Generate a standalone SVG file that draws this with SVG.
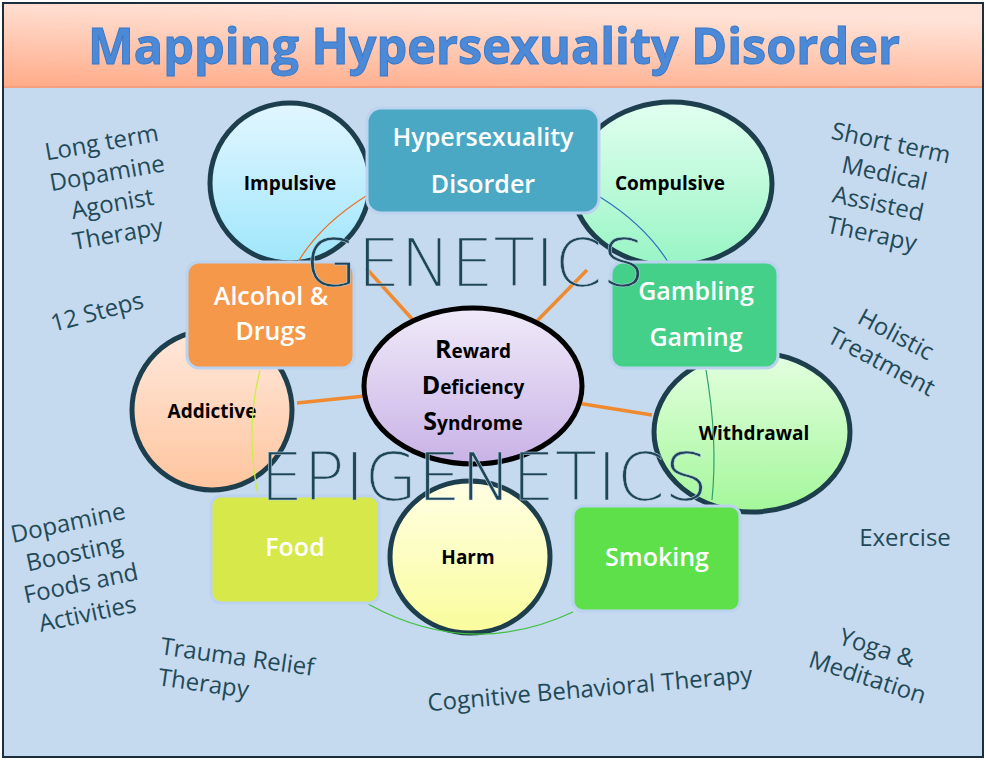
<svg xmlns="http://www.w3.org/2000/svg" width="986" height="762" viewBox="0 0 986 762">
<defs>
<linearGradient id="hdr" x1="0" y1="1" x2="0.3" y2="0"><stop offset="0" stop-color="#ffab88"/><stop offset="1" stop-color="#ffe3d8"/></linearGradient>
<linearGradient id="gImp" x1="0" y1="0" x2="0" y2="1"><stop offset="0" stop-color="#e2f6ff"/><stop offset="1" stop-color="#9fe6fb"/></linearGradient>
<linearGradient id="gCom" x1="0" y1="0" x2="0" y2="1"><stop offset="0" stop-color="#e2fff0"/><stop offset="1" stop-color="#98f5c4"/></linearGradient>
<linearGradient id="gAdd" x1="0" y1="0" x2="0" y2="1"><stop offset="0" stop-color="#ffe8dc"/><stop offset="1" stop-color="#ffc59e"/></linearGradient>
<linearGradient id="gWit" x1="0" y1="0" x2="0" y2="1"><stop offset="0" stop-color="#e4ffe0"/><stop offset="1" stop-color="#a4f79a"/></linearGradient>
<linearGradient id="gHar" x1="0" y1="0" x2="0" y2="1"><stop offset="0" stop-color="#ffffe4"/><stop offset="1" stop-color="#fafc9c"/></linearGradient>
<linearGradient id="gRds" x1="0" y1="0" x2="0" y2="1"><stop offset="0" stop-color="#f0eaf9"/><stop offset="1" stop-color="#c9b2e6"/></linearGradient>
</defs>
<style>
.circ{stroke:#1d3e4c;stroke-width:5}
.box{stroke:#bcd3ef;stroke-width:3}
.bt{font-family:"Open Sans","Liberation Sans",sans-serif;font-weight:600;font-size:25px;fill:#fff;text-anchor:middle}
.ct{font-family:"Open Sans","Liberation Sans",sans-serif;font-weight:700;font-size:19px;fill:#000;text-anchor:middle}
.st{font-family:"Open Sans","Liberation Sans",sans-serif;font-size:24px;fill:#1f4a58;text-anchor:middle}
.big{font-family:"DejaVu Sans",sans-serif;font-weight:200;font-size:66px;fill:#1d4656;stroke:#c5d9ef;stroke-width:0.5}
.ol{stroke:#f08a30;stroke-width:3.5;fill:none}
</style>
<rect x="3" y="3" width="980" height="754" fill="#c5d9ef" stroke="#1a2e3e" stroke-width="2"/>
<rect x="4" y="4" width="978" height="83" fill="url(#hdr)"/>
<line x1="4" y1="87" x2="982" y2="87" stroke="#f4a080" stroke-width="2"/>
<text x="88" y="64" font-family="Open Sans,Liberation Sans,sans-serif" font-weight="700" font-size="50" fill="#4c8ad8" stroke="#3a78c8" stroke-width="1" textLength="812" lengthAdjust="spacingAndGlyphs">Mapping Hypersexuality Disorder</text>

<g id="impulsive"><ellipse cx="290" cy="183" rx="80" ry="80" class="circ" fill="url(#gImp)"/><text x="290" y="190" class="ct">Impulsive</text></g>
<g id="compulsive"><ellipse cx="672" cy="184" rx="100" ry="82" class="circ" fill="url(#gCom)"/><text x="670" y="190" class="ct">Compulsive</text></g>
<g id="addictive"><ellipse cx="212" cy="410" rx="80" ry="80" class="circ" fill="url(#gAdd)"/><text x="212" y="418" class="ct">Addictive</text></g>
<g id="withdrawal"><ellipse cx="752" cy="432" rx="98" ry="80" class="circ" fill="url(#gWit)"/><text x="754" y="440" class="ct">Withdrawal</text></g>
<g id="harm"><ellipse cx="470" cy="557" rx="80" ry="76" class="circ" fill="url(#gHar)"/><text x="468" y="564" class="ct">Harm</text></g>

<g id="connectors">
<line x1="413" y1="320" x2="366" y2="268" class="ol"/>
<line x1="536" y1="322" x2="587" y2="270" class="ol"/>
<line x1="297" y1="403" x2="365" y2="396" class="ol"/>
<line x1="577" y1="403" x2="652" y2="415" class="ol"/>
<path d="M366 196 Q320 225 298 262" stroke="#f07020" stroke-width="1.2" fill="none"/>
<path d="M600 197 Q645 225 668 262" stroke="#3070c0" stroke-width="1.2" fill="none"/>
<path d="M260 370 Q245 430 258 495" stroke="#c8f040" stroke-width="1.2" fill="none"/>
<path d="M706 370 Q718 440 712 500" stroke="#30a070" stroke-width="1.2" fill="none"/>
<path d="M368 604 Q470 660 573 612" stroke="#40c040" stroke-width="1.2" fill="none"/>
</g>

<g id="rds"><ellipse cx="473" cy="386" rx="109" ry="78" fill="url(#gRds)" stroke="#000" stroke-width="5"/>
<text x="473" y="358" class="ct" font-size="21"><tspan font-size="25">R</tspan>eward</text><text x="473" y="394" class="ct" font-size="21"><tspan font-size="25">D</tspan>eficiency</text><text x="473" y="430" class="ct" font-size="21"><tspan font-size="25">S</tspan>yndrome</text></g>

<g id="hypersexuality"><rect x="367" y="108" width="232" height="105" rx="14" fill="#4aa8c4" class="box"/><text x="483" y="146" class="bt">Hypersexuality</text><text x="483" y="193" class="bt">Disorder</text></g>
<g id="alcohol"><rect x="187" y="262" width="167" height="106" rx="12" fill="#f5984a" class="box"/><text x="271" y="305" class="bt">Alcohol &amp;</text><text x="271" y="340" class="bt">Drugs</text></g>
<g id="gambling"><rect x="611" y="262" width="167" height="106" rx="12" fill="#45d08a" class="box"/><text x="696" y="300" class="bt">Gambling</text><text x="696" y="346" class="bt">Gaming</text></g>
<g id="food"><rect x="211" y="496" width="168" height="107" rx="10" fill="#d6e84a" class="box"/><text x="295" y="556" class="bt">Food</text></g>
<g id="smoking"><rect x="573" y="506" width="167" height="105" rx="10" fill="#5ee04a" class="box"/><text x="657" y="566" class="bt">Smoking</text></g>

<text x="305" y="286" class="big" textLength="340" lengthAdjust="spacingAndGlyphs">GENETICS</text>
<text x="260" y="500" class="big" textLength="448" lengthAdjust="spacingAndGlyphs">EPIGENETICS</text>

<g class="st">
<g transform="rotate(-10 110 190)"><text x="110" y="150">Long term</text><text x="110" y="181">Dopamine</text><text x="110" y="212">Agonist</text><text x="110" y="243">Therapy</text></g>
<text x="97" y="320" transform="rotate(-15 97 312)">12 Steps</text>
<g transform="rotate(12 880 195)"><text x="880" y="150">Short term</text><text x="880" y="181">Medical</text><text x="880" y="212">Assisted</text><text x="880" y="243">Therapy</text></g>
<g transform="rotate(28 885 355)"><text x="885" y="340">Holistic</text><text x="885" y="371">Treatment</text></g>
<text x="905" y="546">Exercise</text>
<g transform="rotate(-12 78 570)"><text x="78" y="530">Dopamine</text><text x="78" y="561">Boosting</text><text x="78" y="592">Foods and</text><text x="78" y="623">Activities</text></g>
<g transform="rotate(8 235 675)"><text x="235" y="665">Trauma Relief</text><text x="205" y="696">Therapy</text></g>
<text x="590" y="697" transform="rotate(-5 590 690)">Cognitive Behavioral Therapy</text>
<g transform="rotate(18 870 670)"><text x="870" y="655">Yoga &amp;</text><text x="870" y="686">Meditation</text></g>
</g>
</svg>
